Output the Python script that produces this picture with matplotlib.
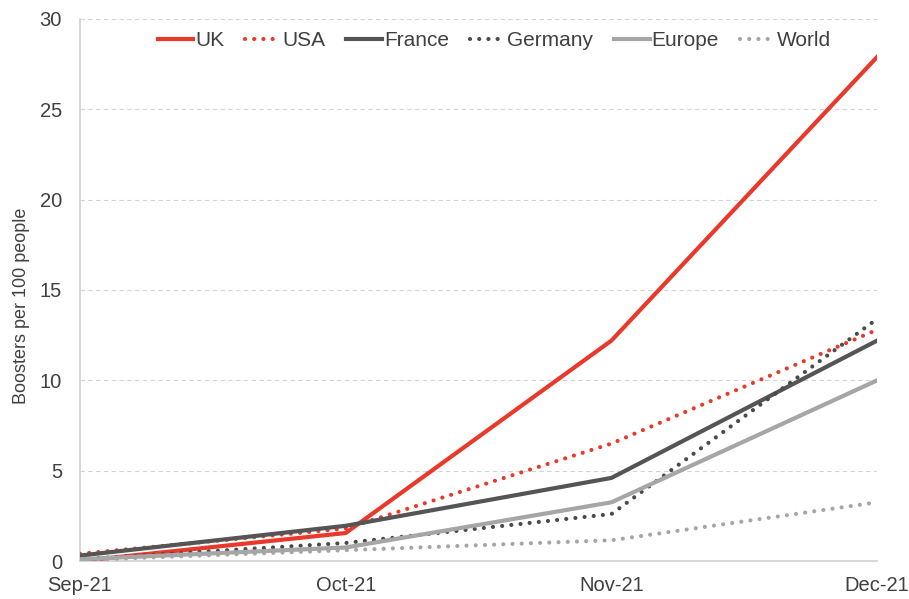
import matplotlib.pyplot as plt

plt.rcParams['font.family'] = ['Liberation Sans', 'DejaVu Sans']

months = ['Sep-21', 'Oct-21', 'Nov-21', 'Dec-21']
uk = [0.0, 1.55, 12.2, 27.9]
usa = [0.4, 1.8, 6.5, 12.8]
france = [0.3, 1.95, 4.6, 12.2]
germany = [0.1, 1.0, 2.6, 13.4]
europe = [0.1, 0.75, 3.25, 10.0]
world = [0.05, 0.6, 1.15, 3.25]

red = '#e8392b'
dark = '#555555'
light = '#a6a6a6'
text_col = '#404040'
dots = (0, (0.01, 2.2))

fig = plt.figure(figsize=(9.09, 5.99), dpi=100)
ax = fig.add_axes([0.088, 0.0634, 0.877, 0.905])
x = range(len(months))

ax.plot(x, uk, color=red, lw=3, label='UK', zorder=3)
ax.plot(x, usa, color=red, lw=3, ls=dots, dash_capstyle='round', label='USA', zorder=3)
ax.plot(x, france, color=dark, lw=3, label='France', zorder=3)
ax.plot(x, germany, color='#4a4a4a', lw=3, ls=dots, dash_capstyle='round', label='Germany', zorder=3)
ax.plot(x, europe, color=light, lw=3, label='Europe', zorder=3)
ax.plot(x, world, color=light, lw=3, ls=dots, dash_capstyle='round', label='World', zorder=3)

ax.set_xlim(0, 3)
ax.set_ylim(0, 30)
ax.set_xticks(list(x))
ax.set_xticklabels(months)
ax.set_yticks(range(0, 31, 5))
ax.tick_params(length=0, labelsize=14.5, colors=text_col)
ax.tick_params(axis='x', pad=11)
ax.tick_params(axis='y', pad=13)
ax.grid(axis='y', color='#d4d4d4', ls=(0, (4, 3)), lw=0.8)
for s in ['top', 'right']:
    ax.spines[s].set_visible(False)
for s in ['left', 'bottom']:
    ax.spines[s].set_color('#d0d0d0')
    ax.spines[s].set_linewidth(1.2)
ax.set_ylabel('Boosters per 100 people', fontsize=13, color=text_col)
ax.yaxis.set_label_coords(-0.063, 0.47)

leg = ax.legend(loc='upper center', ncol=6, frameon=False, fontsize=15,
                handlelength=1.7, handletextpad=0.1, columnspacing=1.0,
                bbox_to_anchor=(0.52, 1.012))
for t in leg.get_texts():
    t.set_color(text_col)

plt.savefig('out.png', dpi=100)
